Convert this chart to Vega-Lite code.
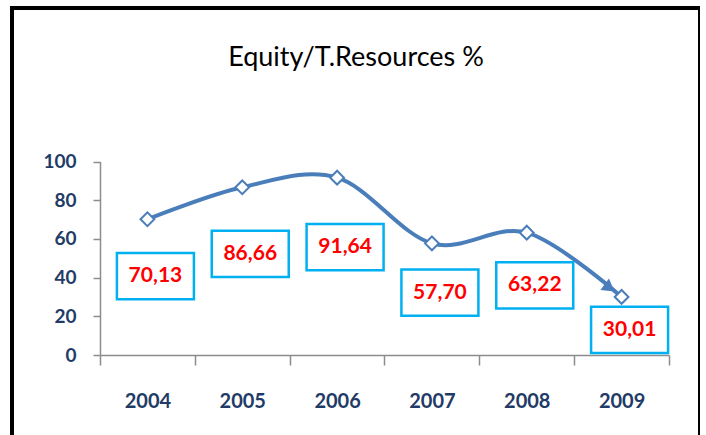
{
  "$schema": "https://vega.github.io/schema/vega-lite/v6.json",
  "width": 688,
  "height": 440,
  "autosize": {"type": "none"},
  "padding": {"left": 12, "top": 8, "right": 0, "bottom": 0},
  "background": "white",
  "title": {
    "text": "Equity/T.Resources %",
    "fontSize": 27,
    "font": "Lato",
    "fontWeight": "normal",
    "color": "#000000",
    "anchor": "middle",
    "frame": "group",
    "baseline": "alphabetic",
    "offset": 0,
    "dy": 85
  },
  "data": {
    "values": [
      {"year": "2004", "value": 70.13},
      {"year": "2005", "value": 86.66},
      {"year": "2006", "value": 91.64},
      {"year": "2007", "value": 57.70},
      {"year": "2008", "value": 63.22},
      {"year": "2009", "value": 30.01}
    ]
  },
  "encoding": {
    "x": {
      "field": "year",
      "type": "ordinal",
      "scale": {"type": "band", "range": [88, 657], "paddingInner": 0, "paddingOuter": 0},
      "axis": {
        "title": null,
        "labelAngle": 0,
        "tickBand": "extent",
        "offset": -93,
        "domainColor": "#8c8c8c",
        "domainWidth": 1.5,
        "tickColor": "#8c8c8c",
        "tickWidth": 1.5,
        "tickSize": 10,
        "labelPadding": 26,
        "labelFont": "Lato",
        "labelFontSize": 20,
        "labelFontWeight": "bold",
        "labelColor": "#1f3b66"
      }
    }
  },
  "layer": [
    {
      "encoding": {
        "y": {
          "field": "value",
          "type": "quantitative",
          "scale": {"domain": [0, 100], "range": [347, 153.5], "nice": false},
          "axis": {
            "title": null,
            "values": [0, 20, 40, 60, 80, 100],
            "offset": -88,
            "grid": false,
            "domainColor": "#8c8c8c",
            "domainWidth": 1.5,
            "tickColor": "#8c8c8c",
            "tickWidth": 1.5,
            "tickSize": 7,
            "labelPadding": 17,
            "labelFont": "Lato",
            "labelFontSize": 19,
            "labelFontWeight": "bold",
            "labelColor": "#1f3b66"
          }
        }
      },
      "layer": [
        {
          "mark": {"type": "line", "interpolate": "cardinal", "color": "#4a7ebb", "strokeWidth": 4},
          "encoding": {}
        },
        {
          "transform": [{"filter": "datum.year == '2009'"}],
          "mark": {"type": "point", "shape": "triangle-right", "angle": 37, "size": 200, "filled": true, "color": "#4a7ebb", "opacity": 1, "xOffset": -12, "yOffset": -9}
        },
        {
          "mark": {"type": "point", "shape": "diamond", "size": 190, "filled": true, "fill": "white", "stroke": "#4a7ebb", "strokeWidth": 2, "opacity": 1}
        }
      ]
    },
    {
      "encoding": {
        "y": {
          "field": "value",
          "type": "quantitative",
          "scale": {"domain": [0, 100], "range": [362, 228], "nice": false, "zero": false},
          "axis": null
        }
      },
      "layer": [
        {
          "mark": {"type": "point", "shape": "M-1,-0.6L1,-0.6L1,0.6L-1,0.6Z", "size": 5929, "filled": true, "fill": "white", "stroke": "#00b0f0", "strokeWidth": 2.5, "opacity": 1, "fillOpacity": 1, "xOffset": 8}
        },
        {
          "mark": {"type": "text", "font": "Lato", "fontSize": 21, "fontWeight": "bold", "color": "#ff0000", "xOffset": 8, "align": "center", "baseline": "middle"},
          "encoding": {"text": {"field": "value", "type": "quantitative", "format": ".2f"}}
        }
      ]
    }
  ],
  "resolve": {"scale": {"y": "independent"}},
  "config": {
    "view": {"stroke": "black", "strokeWidth": 4},
    "locale": {"number": {"decimal": ",", "thousands": ".", "grouping": [3], "currency": ["", ""]}}
  }
}
